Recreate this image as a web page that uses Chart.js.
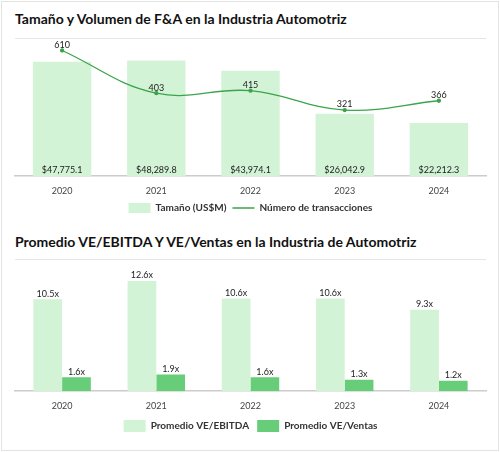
<!DOCTYPE html>
<html><head><meta charset="utf-8">
<script src="https://cdn.jsdelivr.net/npm/chart.js@4"></script>
<style>
body{margin:0;background:#fff;font-family:Lato,"Open Sans",sans-serif;}
#frame{position:absolute;left:1px;top:1px;width:496px;height:448px;border:1px solid #e3e3e3;}
.t{position:absolute;left:15px;font-weight:bold;font-size:14px;color:#111;}
.sep{position:absolute;left:15px;width:471px;height:1px;background:#e6e6e6;}
.c{position:absolute;left:8px;width:484px;}
</style></head><body>
<div id="frame"></div>
<div class="t" style="top:10px">Tamaño y Volumen de F&amp;A en la Industria Automotriz</div>
<div class="sep" style="top:38px"></div>
<div class="c" style="top:39px;height:184px"><canvas id="c1"></canvas></div>
<div class="t" style="top:233px">Promedio VE/EBITDA Y VE/Ventas en la Industria de Automotriz</div>
<div class="sep" style="top:259px"></div>
<div class="c" style="top:260px;height:182px"><canvas id="c2"></canvas></div>
<script>
const years=["2020","2021","2022","2023","2024"];
const size=[47775.1,48289.8,43974.1,26042.9,22212.3];
const deals=[610,403,415,321,366];
const evEbitda=[10.5,12.6,10.6,10.6,9.3];
const evSales=[1.6,1.9,1.6,1.3,1.2];
const light="#d3f3d6", dark="#68cd78", lineC="#3aa54a";
const fmtMoney=v=>"$"+v.toLocaleString("en-US",{minimumFractionDigits:1,maximumFractionDigits:1});
const labelPlugin={id:"lbl",afterDatasetsDraw(ch){
  const ctx=ch.ctx;ctx.save();ctx.font="9px Lato, sans-serif";ctx.fillStyle="#222";ctx.textAlign="center";
  ch.data.datasets.forEach((ds,i)=>{const m=ch.getDatasetMeta(i);
    m.data.forEach((el,j)=>{const v=ds.data[j];
      if(ds.lblMode==="bottom"){ctx.textBaseline="bottom";ctx.fillText(fmtMoney(v),el.x,ch.chartArea.bottom-2);}
      else if(ds.lblMode==="x"){ctx.textBaseline="bottom";ctx.fillText(v.toFixed(1)+"x",el.x,el.y-1);}
      else {ctx.textBaseline="bottom";ctx.fillText(v,el.x,el.y-1);}
    });});
  ctx.restore();}};
Chart.defaults.font.family="Lato, sans-serif";
Chart.defaults.color="#333";
const legendOpts={position:"bottom",labels:{boxWidth:22,boxHeight:12,padding:6,font:{size:10,weight:"bold"},color:"#333"}};
new Chart(document.getElementById("c1"),{
  data:{labels:years,datasets:[
    {type:"line",label:"Número de transacciones",data:deals,yAxisID:"y1",borderColor:lineC,backgroundColor:lineC,borderWidth:1.3,tension:0.4,pointRadius:1.5,lblMode:"n",order:0},
    {type:"bar",label:"Tamaño (US$M)",data:size,yAxisID:"y",backgroundColor:light,categoryPercentage:0.62,barPercentage:1,lblMode:"bottom",order:1}
  ]},
  options:{responsive:true,maintainAspectRatio:false,animation:false,
    layout:{padding:{left:7,right:6,top:0}},
    plugins:{legend:{position:"bottom",reverse:true,labels:{...legendOpts.labels,usePointStyle:true,pointStyleWidth:22,
      generateLabels(ch){
        const l=Chart.defaults.plugins.legend.labels.generateLabels(ch);
        l.forEach(it=>{const ds=ch.data.datasets[it.datasetIndex];
          if(ds.type==="line"){it.pointStyle="line";it.lineWidth=1.5;it.strokeStyle=lineC;}
          else{it.pointStyle="rect";it.lineWidth=0;it.fillStyle=light;it.strokeStyle=light;}});
        return l;}}},tooltip:{enabled:false}},
    scales:{x:{grid:{display:false},border:{color:"#ccc",width:1.5},ticks:{font:{size:9},color:"#444",padding:1}},
      y:{display:false,min:0,max:55000},y1:{display:false,min:0,max:640}}},
  plugins:[labelPlugin]});
new Chart(document.getElementById("c2"),{
  type:"bar",
  data:{labels:years,datasets:[
    {label:"Promedio VE/EBITDA",data:evEbitda,backgroundColor:light,lblMode:"x"},
    {label:"Promedio VE/Ventas",data:evSales,backgroundColor:dark,lblMode:"x"}
  ]},
  options:{responsive:true,maintainAspectRatio:false,animation:false,
    datasets:{bar:{categoryPercentage:0.61,barPercentage:1}},
    layout:{padding:{left:7,right:6,top:0}},
    plugins:{legend:{...legendOpts,labels:{...legendOpts.labels,padding:8}},tooltip:{enabled:false}},
    scales:{x:{grid:{display:false},border:{color:"#ccc",width:1.5},ticks:{font:{size:9},color:"#444",padding:1}},
      y:{display:false,min:0,max:15}}},
  plugins:[labelPlugin]});
</script></body></html>
